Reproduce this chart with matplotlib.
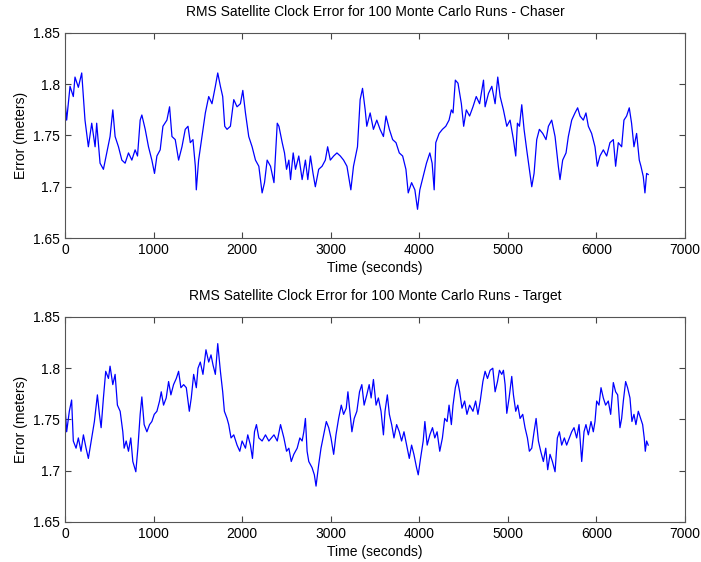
import matplotlib
matplotlib.use('Agg')
from matplotlib import pyplot as plt

# values (time in s, RMS error in m)
chaser_t = [0, 19, 57, 94, 113, 151, 189, 226, 264, 302, 340, 358, 396, 434, 472, 509, 540, 566, 604, 642,
            679, 717, 755, 792, 819, 849, 868, 906, 943, 981, 1011, 1038, 1075, 1106, 1151, 1181, 1208, 1245,
            1283, 1321, 1358, 1389, 1415, 1445, 1472, 1483, 1509, 1547, 1585, 1623, 1660, 1698, 1725, 1755,
            1781, 1804, 1830, 1868, 1906, 1943, 1981, 2008, 2038, 2075, 2113, 2151, 2189, 2226, 2253, 2283,
            2321, 2360, 2397, 2416, 2453, 2479, 2502, 2528, 2547, 2577, 2603, 2640, 2678, 2715, 2742, 2772,
            2801, 2827, 2865, 2903, 2940, 2966, 2996, 3034, 3071, 3109, 3146, 3184, 3228, 3258, 3303, 3333,
            3360, 3390, 3408, 3446, 3483, 3521, 3558, 3596, 3625, 3663, 3700, 3738, 3775, 3813, 3850, 3876,
            3914, 3951, 3981, 4007, 4045, 4082, 4120, 4146, 4169, 4187, 4225, 4262, 4300, 4337, 4363, 4382,
            4408, 4438, 4476, 4502, 4532, 4569, 4607, 4644, 4682, 4726, 4744, 4782, 4820, 4857, 4887, 4914,
            4951, 4989, 5026, 5064, 5090, 5109, 5132, 5158, 5184, 5214, 5244, 5271, 5297, 5327, 5357, 5395,
            5432, 5459, 5496, 5534, 5571, 5590, 5620, 5658, 5684, 5722, 5759, 5789, 5816, 5853, 5883, 5910,
            5947, 5985, 6011, 6041, 6079, 6117, 6154, 6192, 6218, 6248, 6286, 6312, 6342, 6372, 6398, 6425,
            6455, 6485, 6504, 6530, 6549, 6568, 6586]
chaser_err = [1.785, 1.765, 1.798, 1.788, 1.807, 1.797, 1.811, 1.765, 1.739, 1.762, 1.739, 1.762, 1.723, 1.717,
              1.733, 1.749, 1.775, 1.749, 1.739, 1.726, 1.723, 1.733, 1.726, 1.736, 1.730, 1.765, 1.770, 1.756,
              1.739, 1.726, 1.713, 1.730, 1.736, 1.759, 1.765, 1.778, 1.749, 1.746, 1.726, 1.739, 1.756, 1.759,
              1.743, 1.746, 1.720, 1.697, 1.726, 1.749, 1.772, 1.788, 1.781, 1.798, 1.811, 1.798, 1.788, 1.759,
              1.756, 1.759, 1.785, 1.778, 1.781, 1.794, 1.772, 1.749, 1.739, 1.726, 1.720, 1.694, 1.704, 1.726,
              1.720, 1.704, 1.762, 1.759, 1.743, 1.733, 1.717, 1.726, 1.707, 1.733, 1.717, 1.730, 1.707, 1.726,
              1.707, 1.730, 1.713, 1.700, 1.717, 1.720, 1.726, 1.739, 1.726, 1.730, 1.733, 1.730, 1.726, 1.720,
              1.697, 1.720, 1.739, 1.785, 1.796, 1.775, 1.759, 1.772, 1.756, 1.765, 1.756, 1.749, 1.769, 1.756,
              1.746, 1.743, 1.733, 1.730, 1.717, 1.694, 1.704, 1.697, 1.678, 1.697, 1.710, 1.723, 1.733, 1.723,
              1.697, 1.743, 1.752, 1.756, 1.759, 1.765, 1.775, 1.772, 1.804, 1.801, 1.781, 1.759, 1.775, 1.769,
              1.778, 1.788, 1.781, 1.804, 1.778, 1.791, 1.798, 1.781, 1.807, 1.788, 1.775, 1.759, 1.765, 1.746,
              1.730, 1.762, 1.759, 1.780, 1.756, 1.736, 1.717, 1.700, 1.713, 1.746, 1.756, 1.752, 1.746, 1.759,
              1.765, 1.749, 1.720, 1.707, 1.726, 1.733, 1.749, 1.765, 1.772, 1.777, 1.769, 1.765, 1.772, 1.759,
              1.752, 1.739, 1.720, 1.730, 1.736, 1.730, 1.743, 1.746, 1.720, 1.743, 1.739, 1.765, 1.769, 1.777,
              1.762, 1.739, 1.752, 1.726, 1.720, 1.710, 1.694, 1.713, 1.712]

target_t = [0, 19, 49, 75, 94, 125, 151, 181, 208, 238, 264, 302, 332, 366, 389, 408, 434, 460, 491, 509, 540,
            566, 592, 623, 653, 668, 691, 717, 743, 766, 800, 823, 849, 868, 894, 925, 955, 981, 1008, 1038,
            1068, 1087, 1113, 1143, 1170, 1196, 1226, 1257, 1283, 1309, 1340, 1370, 1404, 1426, 1453, 1483,
            1502, 1528, 1558, 1592, 1623, 1649, 1672, 1698, 1725, 1755, 1781, 1800, 1830, 1849, 1875, 1906,
            1943, 1974, 2000, 2038, 2064, 2094, 2117, 2140, 2162, 2189, 2226, 2264, 2302, 2360, 2397, 2434,
            2472, 2502, 2528, 2555, 2584, 2622, 2652, 2678, 2697, 2715, 2734, 2753, 2790, 2816, 2835, 2865,
            2891, 2921, 2951, 2978, 3004, 3034, 3060, 3090, 3120, 3146, 3176, 3195, 3221, 3240, 3266, 3296,
            3326, 3352, 3378, 3408, 3435, 3457, 3483, 3513, 3539, 3569, 3596, 3614, 3640, 3663, 3689, 3715,
            3745, 3775, 3801, 3828, 3858, 3888, 3914, 3940, 3970, 3989, 4015, 4045, 4064, 4090, 4120, 4150,
            4176, 4202, 4232, 4262, 4288, 4315, 4337, 4363, 4382, 4408, 4431, 4457, 4483, 4513, 4539, 4569,
            4607, 4637, 4663, 4689, 4719, 4744, 4771, 4801, 4831, 4857, 4884, 4906, 4932, 4951, 4970, 4989,
            5015, 5045, 5064, 5090, 5113, 5139, 5169, 5195, 5222, 5244, 5271, 5297, 5320, 5346, 5372, 5402,
            5429, 5451, 5477, 5504, 5534, 5560, 5583, 5609, 5639, 5665, 5695, 5722, 5748, 5778, 5805, 5835,
            5861, 5883, 5910, 5940, 5966, 5985, 6004, 6030, 6053, 6079, 6105, 6135, 6162, 6192, 6218, 6241,
            6267, 6286, 6305, 6331, 6353, 6380, 6402, 6425, 6447, 6474, 6500, 6523, 6541, 6553, 6568, 6586]
target_err = [1.764, 1.738, 1.758, 1.769, 1.729, 1.722, 1.732, 1.719, 1.735, 1.722, 1.712, 1.732, 1.748, 1.774,
              1.755, 1.742, 1.771, 1.797, 1.790, 1.802, 1.784, 1.794, 1.764, 1.758, 1.738, 1.722, 1.729, 1.719,
              1.732, 1.709, 1.699, 1.722, 1.755, 1.772, 1.745, 1.738, 1.745, 1.748, 1.755, 1.758, 1.768, 1.777,
              1.764, 1.771, 1.787, 1.774, 1.784, 1.790, 1.797, 1.781, 1.784, 1.781, 1.758, 1.771, 1.794, 1.781,
              1.800, 1.806, 1.794, 1.818, 1.806, 1.813, 1.803, 1.794, 1.824, 1.797, 1.777, 1.758, 1.751, 1.745,
              1.732, 1.735, 1.725, 1.719, 1.729, 1.722, 1.735, 1.725, 1.712, 1.738, 1.745, 1.732, 1.729, 1.735,
              1.729, 1.735, 1.729, 1.745, 1.732, 1.719, 1.722, 1.709, 1.716, 1.722, 1.732, 1.729, 1.738, 1.751,
              1.719, 1.709, 1.703, 1.696, 1.685, 1.706, 1.722, 1.735, 1.748, 1.742, 1.732, 1.716, 1.735, 1.751,
              1.764, 1.755, 1.761, 1.777, 1.755, 1.738, 1.751, 1.758, 1.777, 1.784, 1.764, 1.774, 1.784, 1.771,
              1.789, 1.764, 1.771, 1.758, 1.735, 1.758, 1.774, 1.755, 1.745, 1.732, 1.745, 1.738, 1.729, 1.738,
              1.725, 1.712, 1.725, 1.716, 1.703, 1.696, 1.712, 1.729, 1.748, 1.725, 1.735, 1.742, 1.732, 1.738,
              1.719, 1.732, 1.751, 1.748, 1.764, 1.745, 1.764, 1.781, 1.789, 1.777, 1.761, 1.768, 1.755, 1.764,
              1.758, 1.768, 1.755, 1.768, 1.787, 1.797, 1.790, 1.798, 1.800, 1.777, 1.787, 1.798, 1.794, 1.798,
              1.784, 1.756, 1.771, 1.792, 1.774, 1.758, 1.764, 1.751, 1.755, 1.742, 1.732, 1.719, 1.722, 1.738,
              1.751, 1.729, 1.719, 1.709, 1.722, 1.701, 1.716, 1.709, 1.699, 1.732, 1.738, 1.725, 1.732, 1.725,
              1.732, 1.738, 1.742, 1.732, 1.745, 1.709, 1.738, 1.745, 1.735, 1.748, 1.738, 1.748, 1.768, 1.764,
              1.781, 1.771, 1.764, 1.768, 1.755, 1.786, 1.777, 1.774, 1.742, 1.751, 1.768, 1.787, 1.781, 1.771,
              1.748, 1.755, 1.745, 1.758, 1.751, 1.745, 1.732, 1.719, 1.729, 1.725]

titles = ['RMS Satellite Clock Error for 100 Monte Carlo Runs - Chaser',
          'RMS Satellite Clock Error for 100 Monte Carlo Runs - Target']
xticks = [0, 1000, 2000, 3000, 4000, 5000, 6000, 7000]
yticks = [1.65, 1.7, 1.75, 1.8, 1.85]
ytick_labels = ['1.65', '1.7', '1.75', '1.8', '1.85']

plt.rcParams['font.family'] = ['Liberation Sans', 'DejaVu Sans']
plt.rcParams['font.size'] = 10

fig = plt.figure(figsize=(7.01, 5.62), dpi=100)
ax1 = fig.add_axes([0.0927, 0.5765, 0.8843, 0.3648])
ax2 = fig.add_axes([0.0927, 0.0712, 0.8843, 0.3648])

for ax, t, e, title in [(ax1, chaser_t, chaser_err, titles[0]), (ax2, target_t, target_err, titles[1])]:
    ax.plot(t, e, color='#0000ff', linewidth=0.9)
    ax.set_xlim(0, 7000)
    ax.set_ylim(1.65, 1.85)
    ax.set_xticks(xticks)
    ax.set_yticks(yticks)
    ax.set_yticklabels(ytick_labels)
    ax.tick_params(direction='in', top=True, right=True, length=4, color='#444444', labelsize=10)
    for s in ax.spines.values():
        s.set_color('#555555')
        s.set_linewidth(0.8)
    ax.set_title(title, fontsize=10, pad=12)
    ax.set_xlabel('Time (seconds)', fontsize=10, labelpad=3)
    ax.set_ylabel('Error (meters)', fontsize=10, labelpad=4)

fig.savefig('out.png', dpi=100)
